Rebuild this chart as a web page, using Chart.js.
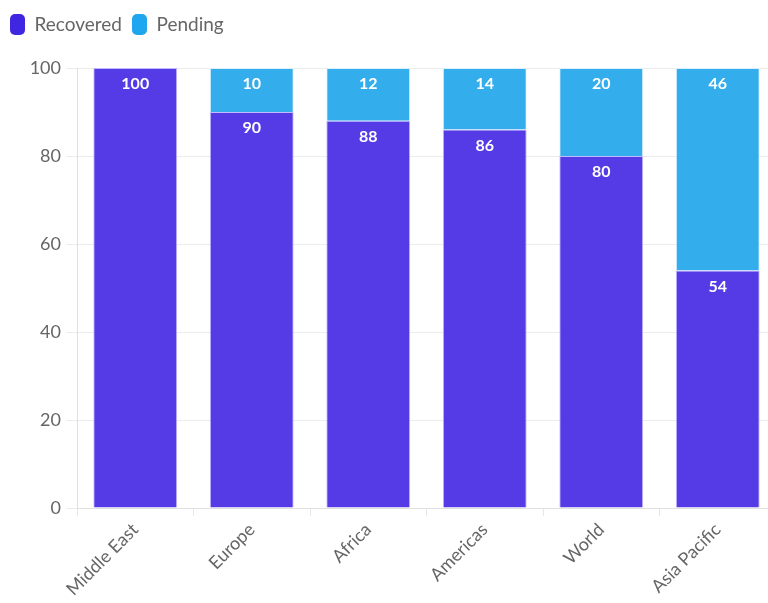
<!DOCTYPE html>
<html>
<head>
<meta charset="utf-8">
<script src="https://cdn.jsdelivr.net/npm/chart.js@4/dist/chart.umd.min.js"></script>
<style>
  html, body { margin: 0; padding: 0; background: #fff; overflow: hidden; }
  #wrap { width: 768px; height: 603px; overflow: hidden; }
</style>
</head>
<body>
<div id="wrap"><canvas id="myChart" width="776" height="603"></canvas></div>
<script>
var regions = ['Middle East', 'Europe', 'Africa', 'Americas', 'World', 'Asia Pacific'];
var recovered = [100, 90, 88, 86, 80, 54];
var pending = [0, 10, 12, 14, 20, 46];
var yTicks = [0, 20, 40, 60, 80, 100];

var fontFam = 'Lato, "Open Sans", sans-serif';

// white value labels drawn at the top of each segment
var valueLabels = {
    id: 'valueLabels',
    afterDatasetsDraw: function (chart) {
        var ctx = chart.ctx;
        ctx.save();
        ctx.font = 'bold 16px ' + fontFam;
        ctx.fillStyle = '#ffffff';
        ctx.textAlign = 'center';
        ctx.textBaseline = 'top';
        chart.data.datasets.forEach(function (ds, i) {
            var meta = chart.getDatasetMeta(i);
            meta.data.forEach(function (bar, j) {
                var v = ds.data[j];
                if (!v) return;
                ctx.fillText(v, bar.x, bar.y + 8);
            });
        });
        ctx.restore();
    }
};

// extra room under the legend
var legendGap = {
    id: 'legendGap',
    beforeInit: function (chart) {
        var fit = chart.legend.fit;
        chart.legend.fit = function () {
            fit.bind(chart.legend)();
            this.height += 23;
        };
    }
};

var ctx = document.getElementById('myChart').getContext('2d');
var myChart = new Chart(ctx, {
    type: 'bar',
    data: {
        labels: regions,
        datasets: [{
            label: 'Recovered',
            data: recovered,
            backgroundColor: 'rgba(72, 44, 228, 0.93)',
            borderColor: 'rgba(190, 180, 255, 0.9)',
            borderWidth: 1
        }, {
            label: 'Pending',
            data: pending,
            backgroundColor: 'rgba(35, 167, 235, 0.93)',
            borderColor: 'rgba(220, 240, 255, 0.9)',
            borderWidth: 1
        }]
    },
    options: {
        responsive: false,
        animation: false,
        maintainAspectRatio: false,
        layout: { padding: { left: 0, right: 0, top: 4, bottom: 0 } },
        plugins: {
            legend: {
                align: 'start',
                labels: {
                    boxWidth: 15,
                    boxHeight: 21,
                    useBorderRadius: true,
                    borderRadius: 5,
                    padding: 10,
                    color: '#666',
                    font: { family: fontFam, size: 19 },
                    generateLabels: function (chart) {
                        return chart.data.datasets.map(function (ds, i) {
                            return {
                                text: ds.label,
                                fillStyle: i === 0 ? '#3f27e2' : '#1ea6ee',
                                strokeStyle: 'rgba(0,0,0,0)',
                                lineWidth: 0,
                                borderRadius: 5,
                                fontColor: '#666',
                                datasetIndex: i
                            };
                        });
                    }
                }
            },
            tooltip: { enabled: false }
        },
        scales: {
            x: {
                stacked: true,
                categoryPercentage: 0.8,
                barPercentage: 0.94,
                grid: { color: '#e8e8e8', drawOnChartArea: false, tickLength: 8 },
                border: { color: '#e0e0e0' },
                ticks: {
                    color: '#666',
                    maxRotation: 45,
                    minRotation: 45,
                    font: { family: fontFam, size: 18 }
                }
            },
            y: {
                stacked: true,
                min: 0,
                max: 100,
                afterBuildTicks: function (axis) {
                    axis.ticks = yTicks.map(function (v) { return { value: v }; });
                },
                afterFit: function (axis) {
                    axis.width = 77;
                },
                grid: { color: '#ececec', tickLength: 11 },
                border: { color: '#e0e0e0' },
                ticks: {
                    color: '#666',
                    padding: 5,
                    font: { family: fontFam, size: 18 }
                }
            }
        }
    },
    plugins: [valueLabels, legendGap]
});
</script>
</body>
</html>
